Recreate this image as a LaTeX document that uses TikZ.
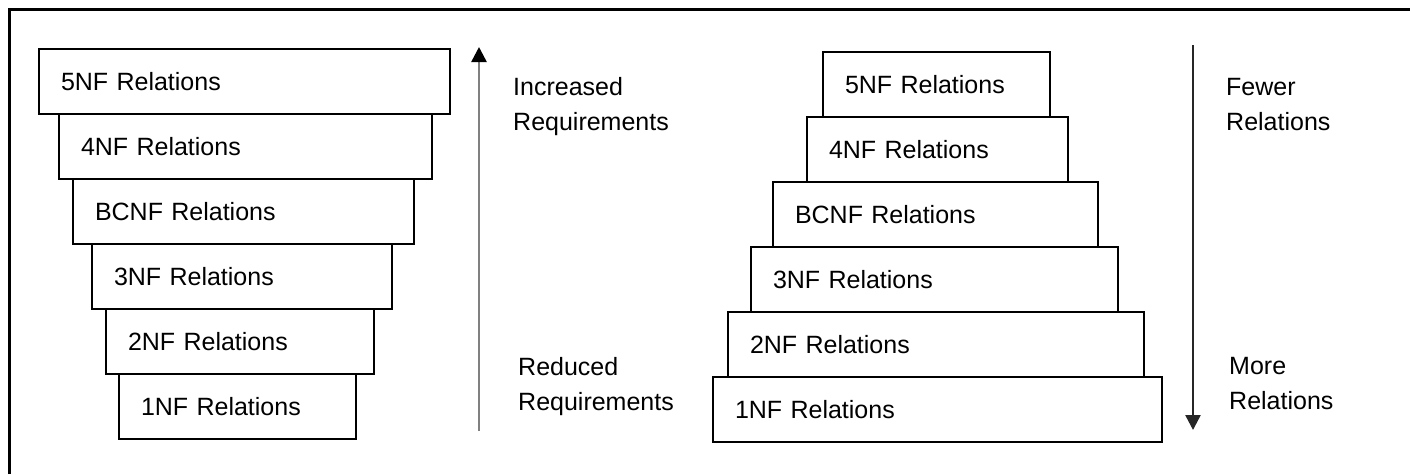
\documentclass[tikz,border=0pt]{standalone}
\usepackage{fontspec}
\setmainfont{Liberation Sans}
\usetikzlibrary{positioning, arrows.meta}
\newcommand{\nffont}{\fontsize{25}{35}\selectfont}
\tikzset{>={Triangle[width=15pt,length=15pt]},
nf/.style={draw, line width=1.6pt, outer sep=0pt, inner xsep=22pt, inner ysep=0pt, minimum height=65pt, align=left, font=\nffont}, % one level of a stack
side/.style={anchor=north west, inner sep=0pt, align=left, font=\nffont}, % texts beside the arrows
trend/.style={line width=2.5pt, ->}
}

\begin{document}
\begin{tikzpicture}[x=1pt,y=-1pt]
    \useasboundingbox (0,0) rectangle (1410,474);
    \draw[line width=3pt] (9,474) |- (1410,9);

    % left stack, widest on top
    \node[nf,text width=367pt,anchor=north west] (L5) at (39,49) {5NF Relations};
    \node[nf,text width=329pt,below right=0pt and 20pt of L5.south west] (L4) {4NF Relations};
    \node[nf,text width=297pt,below right=0pt and 14pt of L4.south west] (LB) {BCNF Relations};
    \node[nf,text width=256pt,below right=0pt and 19pt of LB.south west] (L3) {3NF Relations};
    \node[nf,text width=224pt,below right=0pt and 14pt of L3.south west] (L2) {2NF Relations};
    \node[nf,text width=193pt,below right=0pt and 13pt of L2.south west] (L1) {1NF Relations};

    % right stack, widest at the bottom
    \node[nf,text width=183pt,anchor=north west] (R5) at (823,52) {5NF Relations};
    \node[nf,text width=217pt,below right=0pt and -16pt of R5.south west] (R4) {4NF Relations};
    \node[nf,text width=281pt,below right=0pt and -34pt of R4.south west] (RB) {BCNF Relations};
    \node[nf,text width=323pt,below right=0pt and -22pt of RB.south west] (R3) {3NF Relations};
    \node[nf,text width=372pt,below right=0pt and -23pt of R3.south west] (R2) {2NF Relations};
    \node[nf,text width=405pt,below right=0pt and -15pt of R2.south west] (R1) {1NF Relations};

    \coordinate (upHead) at (479,47);
    \coordinate (upTail) at (479,431);
    \coordinate (downTail) at (1193,45);
    \coordinate (downHead) at (1193,430);
    \draw[trend,gray,-{Triangle[width=15pt,length=15pt,color=black]}] (upTail) -- (upHead);
    \draw[trend,black!85] (downTail) -- (downHead);

    \node[side] (Inc) at (513,77) {Increased\\Requirements};
    \node[side] (Red) at (518,357) {Reduced\\Requirements};
    \node[side] (Few) at (1226,78) {Fewer\\Relations};
    \node[side] (More) at (1229,357) {More\\Relations};
\end{tikzpicture}
\end{document}
